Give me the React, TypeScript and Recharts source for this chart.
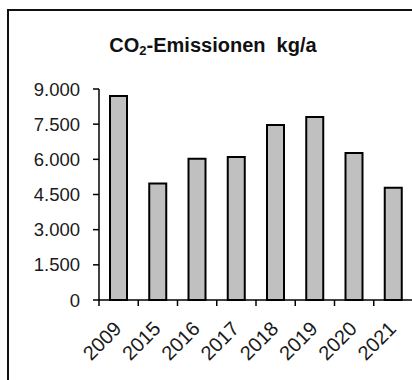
import React from 'react';
import { BarChart, Bar, XAxis, YAxis } from 'recharts';

const years = ['2009', '2015', '2016', '2017', '2018', '2019', '2020', '2021'];
const emissions = [8700, 4970, 6030, 6100, 7460, 7810, 6270, 4790];
const yTicks = [0, 1500, 3000, 4500, 6000, 7500, 9000];

const data = years.map((year, i) => ({ year, value: emissions[i] }));

const FONT = '"Liberation Sans", Arial, sans-serif';

// german thousands separator
const fmt = (v: number) => String(v).replace(/\B(?=(\d{3})+(?!\d))/g, '.');

const YearTick = (props: any) => {
  const { x, y, payload, index } = props;
  const off = payload.offset || 0;
  const ax = x + 4;
  const ay = y + 22;
  return (
    <g>
      <line x1={x - off} x2={x - off} y1={y - 8} y2={y - 2} stroke="#000" strokeWidth={1.5} />
      {index === years.length - 1 && (
        <line x1={x + off} x2={x + off} y1={y - 8} y2={y - 2} stroke="#000" strokeWidth={1.5} />
      )}
      <text
        x={ax}
        y={ay}
        textAnchor="end"
        transform={`rotate(-45, ${ax}, ${ay})`}
        fontSize={20}
        fontFamily={FONT}
        fill="#1a1a1a"
      >
        {payload.value}
      </text>
    </g>
  );
};

export default function App() {
  return (
    <div style={{ position: 'absolute', left: 0, top: 0, width: 412, height: 380, overflow: 'hidden', background: '#fff' }}>
      <div
        style={{
          position: 'absolute',
          left: 7,
          top: 9,
          width: 440,
          height: 420,
          border: '2px solid #111',
          boxSizing: 'border-box',
        }}
      />
      <div
        style={{
          position: 'absolute',
          left: 0,
          width: 426,
          top: 34,
          textAlign: 'center',
          fontFamily: FONT,
          fontWeight: 'bold',
          fontSize: 20,
          color: '#111',
          whiteSpace: 'pre',
        }}
      >
        CO<sub style={{ fontSize: 13, verticalAlign: -3 }}>2</sub>-Emissionen  kg/a
      </div>
      <div style={{ position: 'absolute', left: 0, top: 0 }}>
        <BarChart width={413} height={380} data={data} margin={{ top: 89, right: 0, left: 0, bottom: 0 }}>
          <XAxis
            dataKey="year"
            height={80}
            interval={0}
            axisLine={{ stroke: '#000', strokeWidth: 1.5 }}
            tickLine={false}
            tick={<YearTick />}
          />
          <YAxis
            width={99}
            domain={[0, 9000]}
            ticks={yTicks}
            interval={0}
            tickFormatter={fmt}
            axisLine={{ stroke: '#000', strokeWidth: 1.5 }}
            tickLine={{ stroke: '#000', strokeWidth: 1.5 }}
            tickSize={6}
            tickMargin={13}
            tick={{ fontSize: 18.5, fontFamily: FONT, fill: '#1a1a1a' }}
          />
          <Bar
            dataKey="value"
            fill="#c0c0c0"
            stroke="#000"
            strokeWidth={2}
            barSize={17}
            isAnimationActive={false}
          />
        </BarChart>
      </div>
    </div>
  );
}
